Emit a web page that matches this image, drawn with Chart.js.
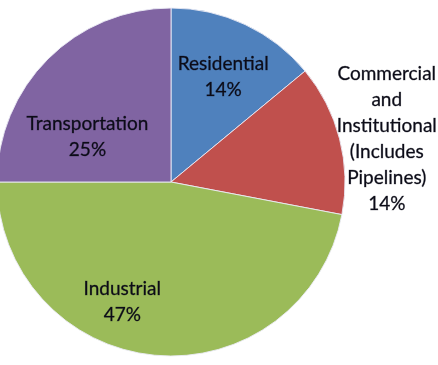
<!DOCTYPE html>
<html>
<head>
<meta charset="utf-8">
<script src="https://cdn.jsdelivr.net/npm/chart.js@4.4.1/dist/chart.umd.min.js"></script>
<style>
  html, body { margin: 0; padding: 0; background: #fff; }
  #wrap { width: 438px; height: 365px; }
</style>
</head>
<body>
<div id="wrap"><canvas id="pieChart"></canvas></div>
<script>
const sectors = ['Residential', 'Commercial and Institutional (Includes Pipelines)', 'Industrial', 'Transportation'];
const labelLines = [
    ['Residential'],
    ['Commercial', 'and', 'Institutional', '(Includes', 'Pipelines)'],
    ['Industrial'],
    ['Transportation']
];
const shares = [14, 14, 47, 25];
const sliceColors = ['#4F81BD', '#C0504D', '#9BBB59', '#8064A2'];

// label anchor relative to pie centre, in units of the radius
const labelAnchors = [
    { x: 0.30, y: -0.604 },
    { x: 1.24, y: -0.249 },
    { x: -0.28, y: 0.691 },
    { x: -0.48, y: -0.261 }
];

const lineHeight = 26;

const sliceLabels = {
    id: 'sliceLabels',
    afterDatasetsDraw(chart) {
        const ctx = chart.ctx;
        const arc = chart.getDatasetMeta(0).data[0];
        const cx = arc.x, cy = arc.y, r = arc.outerRadius;
        ctx.save();
        ctx.font = '19px Lato';
        ctx.fillStyle = '#0c0c18';
        ctx.strokeStyle = 'rgba(12,12,24,0.55)';
        ctx.lineWidth = 0.5;
        ctx.textAlign = 'center';
        ctx.textBaseline = 'middle';
        shares.forEach((v, i) => {
            const lines = labelLines[i].concat([v + '%']);
            const ax = cx + labelAnchors[i].x * r;
            const ay = cy + labelAnchors[i].y * r;
            const top = ay - (lines.length - 1) * lineHeight / 2;
            lines.forEach((t, j) => {
                ctx.fillText(t, ax, top + j * lineHeight);
                ctx.strokeText(t, ax, top + j * lineHeight);
            });
        });
        ctx.restore();
    }
};

new Chart(document.getElementById('pieChart'), {
    type: 'pie',
    data: {
        labels: sectors,
        datasets: [{
            data: shares,
            backgroundColor: sliceColors,
            borderColor: 'rgba(235,235,245,0.9)',
            borderWidth: 1
        }]
    },
    options: {
        responsive: true,
        maintainAspectRatio: false,
        animation: false,
        radius: 174,
        layout: { padding: { left: 0, right: 96, top: 0, bottom: 1 } },
        plugins: {
            legend: { display: false },
            tooltip: { enabled: false }
        }
    },
    plugins: [sliceLabels]
});
</script>
</body>
</html>
